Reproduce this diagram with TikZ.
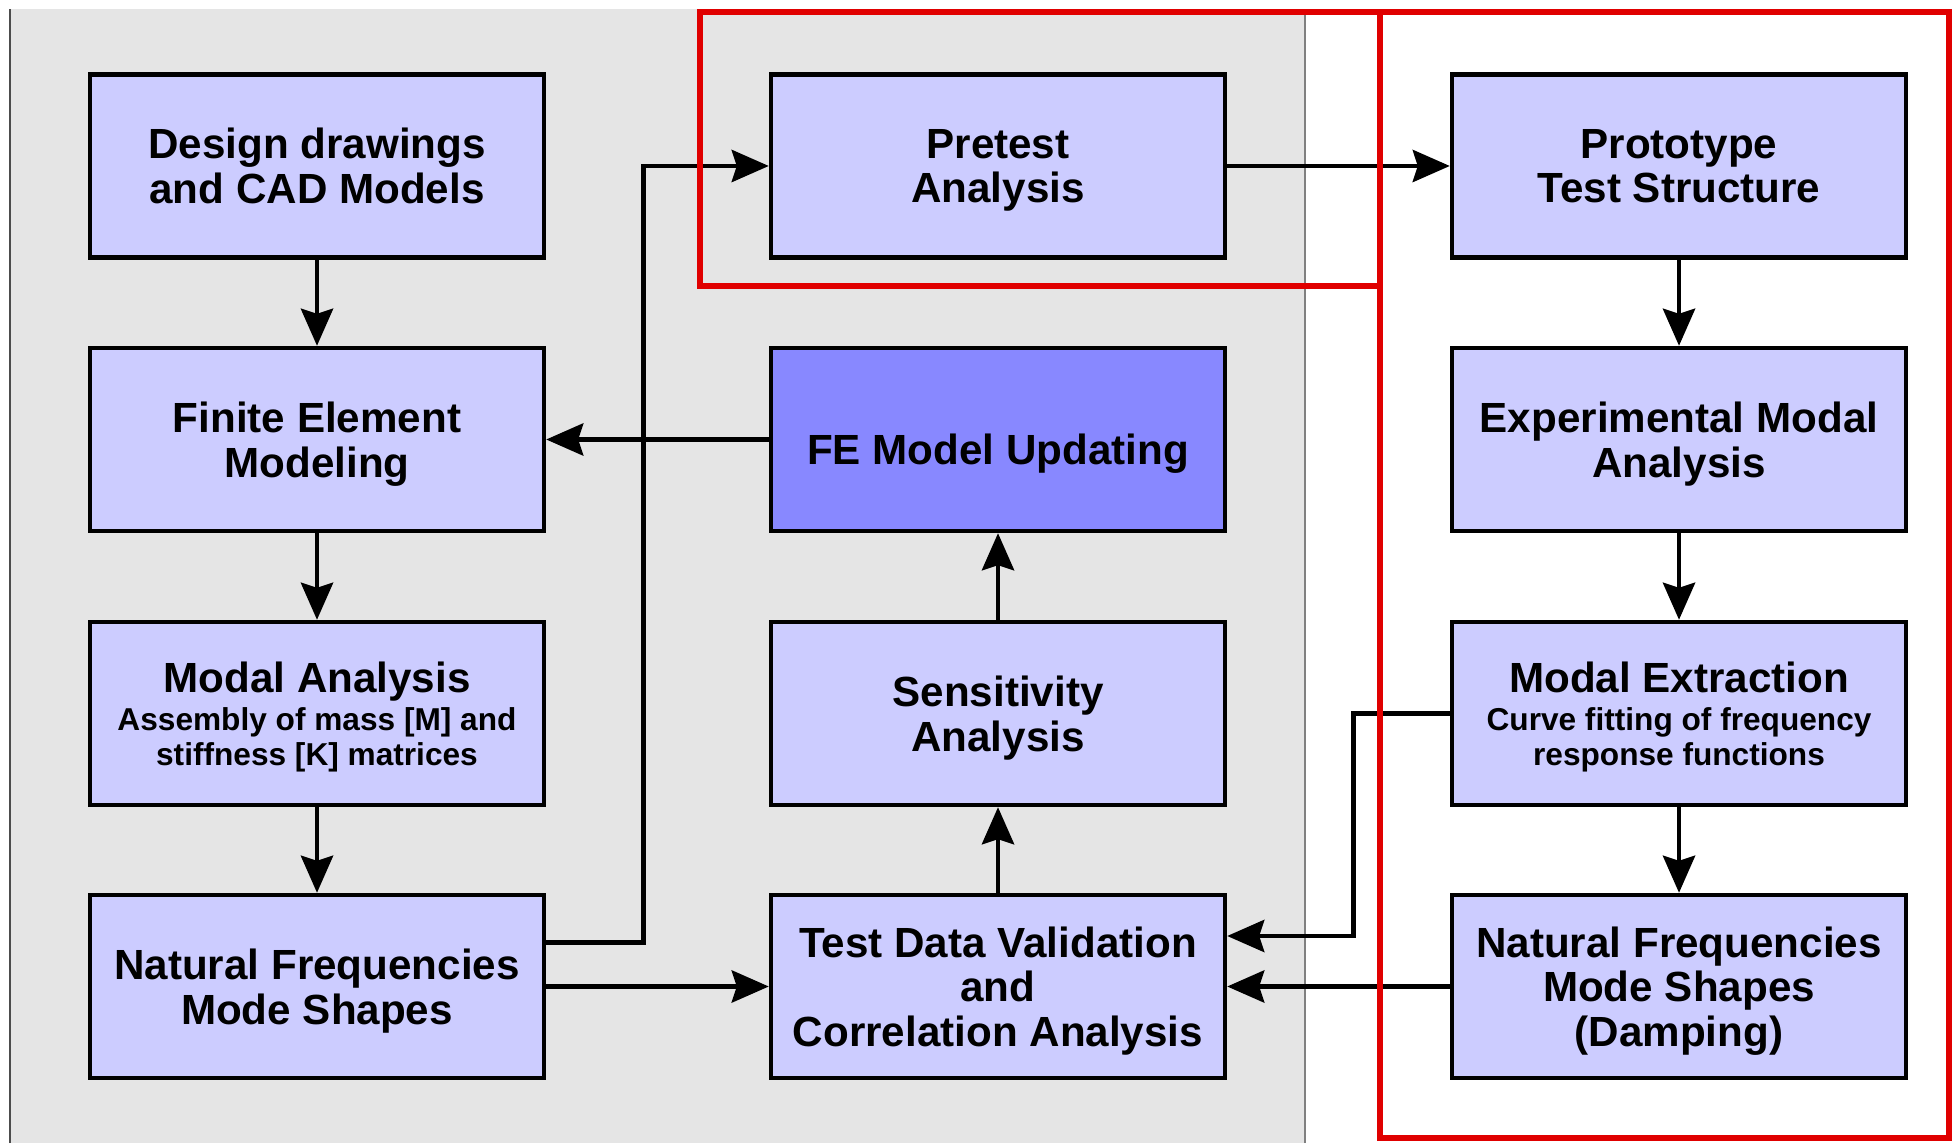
\documentclass[tikz,border=0pt]{standalone}
\usepackage{fontspec}
\setmainfont{Liberation Sans}
\usetikzlibrary{arrows.meta}
\definecolor{boxblue}{HTML}{CCCCFF}
\definecolor{updblue}{HTML}{8888FF}
\definecolor{panelgray}{HTML}{E5E5E5}
\definecolor{framered}{HTML}{E00000}
\newcommand{\subtxt}[1]{{\fontsize{18}{20}\selectfont #1}}

\begin{document}
\begin{tikzpicture}[
  blk/.style={draw,fill=boxblue,line width=2.5pt,minimum width=9.08cm,minimum height=3.66cm,
    inner sep=0pt,text depth=0pt,align=center,font=\bfseries\fontsize{24}{25.4}\selectfont},
  link/.style={line width=2.8pt,-{Stealth[length=0.74cm,width=0.64cm,inset=0.1cm]}},
  frame/.style={draw=framered,line width=3.4pt}]
 \useasboundingbox (0,0) rectangle (39.04,22.86);
 % grey panel: analytical side
 \fill[panelgray] (0.2,0) rectangle (26.1,22.68);
 \draw[gray!60!black,line width=0.8pt] (0.2,0) -- (0.2,22.68);
 \draw[gray,line width=0.6pt] (26.1,0) -- (26.1,22.68);
 % first column
 \node[blk] (cad) at (6.34,19.54) {Design drawings\\and CAD Models};
 \node[blk] (fem) at (6.34,14.07) {Finite Element\\Modeling};
 \node[blk] (ma) at (6.34,8.59) {Modal Analysis\\[-3.5pt]\subtxt{Assembly of mass [M] and}\\[-5.6pt]\subtxt{stiffness [K] matrices}};
 \node[blk] (nfa) at (6.34,3.13) {Natural Frequencies\\Mode Shapes};
 % second column
 \node[blk] (pre) at (19.96,19.54) {Pretest\\Analysis};
 \node[blk,fill=updblue,text height=28.6pt] (upd) at (19.96,14.07) {FE Model Updating};
 \node[blk] (sens) at (19.96,8.59) {Sensitivity\\Analysis};
 \node[blk] (tdv) at (19.96,3.13) {Test Data Validation\\and\\Correlation Analysis};
 % third column: test side
 \node[blk] (proto) at (33.58,19.54) {Prototype\\Test Structure};
 \node[blk] (ema) at (33.58,14.07) {Experimental Modal\\Analysis};
 \node[blk] (mex) at (33.58,8.59) {Modal Extraction\\[-3.5pt]\subtxt{Curve fitting of frequency}\\[-5.6pt]\subtxt{response functions}};
 \node[blk] (nft) at (33.58,3.13) {Natural Frequencies\\Mode Shapes\\(Damping)};
 % connectors
 \draw[link] (cad) -- (fem);
 \draw[link] (fem) -- (ma);
 \draw[link] (ma) -- (nfa);
 \draw[link] (upd) -- (fem);
 \draw[link] (sens) -- (upd);
 \draw[link] (tdv) -- (sens);
 \draw[link] (nfa) -- (tdv);
 \draw[link] ([yshift=0.88cm]nfa.east) -- ++(1.94,0) |- (pre.west);
 \draw[link] (pre) -- (proto);
 \draw[link] (proto) -- (ema);
 \draw[link] (ema) -- (mex);
 \draw[link] (mex) -- (nft);
 \draw[link] (mex.west) -- ++(-1.92,0) |- ([yshift=1.01cm]tdv.east);
 \draw[link] (nft) -- (tdv);
 % red frames
 \draw[frame] (14.0,22.61) rectangle (27.6,17.14);
 \draw[frame] (27.6,22.61) rectangle (38.98,0.1);
\end{tikzpicture}
\end{document}
